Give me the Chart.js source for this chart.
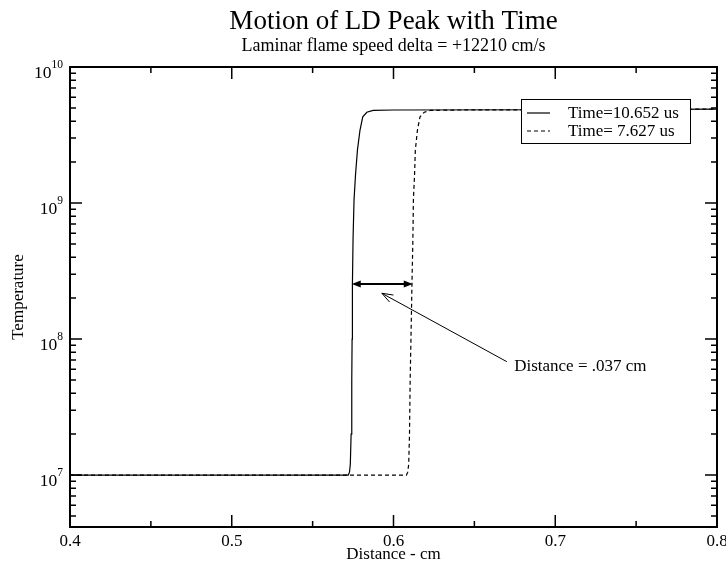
<!DOCTYPE html>
<html><head><meta charset="utf-8">
<script src="https://cdn.jsdelivr.net/npm/chart.js@4"></script>
<style>html,body{margin:0;padding:0;background:#fff}#wrap{width:726px;height:561px}</style>
</head><body><div id="wrap"><canvas id="c" width="726" height="561"></canvas></div>
<script>
// ---- text ----
const titleText = 'Motion of LD Peak with Time';
const subtitleText = 'Laminar flame speed delta = +12210 cm/s';
const xAxisTitle = 'Distance - cm';
const yAxisTitle = 'Temperature';
const seriesLabels = ['Time=10.652 us', 'Time= 7.627 us'];

// ---- series ----
const xSolid = [0.40, 0.572, 0.5728, 0.5733, 0.5738, 0.5742, 0.5744, 0.5746, 0.5750, 0.5756, 0.5765, 0.5777, 0.5793, 0.5810, 0.5835, 0.5874, 0.600, 0.700, 0.800];
const ySolid = [1e7, 1e7, 1.05e7, 1.2e7, 2e7, 5e7, 1e8, 2.5e8, 5.5e8, 1.05e9, 1.6e9, 2.45e9, 3.44e9, 4.3e9, 4.65e9, 4.8e9, 4.83e9, 4.85e9, 4.9e9];
const xDashed = [0.40, 0.608, 0.6088, 0.6094, 0.6099, 0.6103, 0.6108, 0.6114, 0.6120, 0.6123, 0.6130, 0.6135, 0.6148, 0.6164, 0.6190, 0.6230, 0.640, 0.700, 0.800];
const yDashed = [1e7, 1e7, 1.05e7, 1.2e7, 2e7, 5e7, 1e8, 2.5e8, 5.5e8, 1.05e9, 1.6e9, 2.45e9, 3.44e9, 4.3e9, 4.65e9, 4.8e9, 4.83e9, 4.85e9, 4.9e9];

// ---- axes ----
const xRange = [0.4, 0.8];
const yRange = [4.15e6, 1e10];
const xMajorTicks = [0.4, 0.5, 0.6, 0.7, 0.8];
const xTickLabels = ['0.4', '0.5', '0.6', '0.7', '0.8'];
const xMinorTicks = [0.45, 0.55, 0.65, 0.75];
const yMajorExponents = [7, 8, 9, 10];
const yMinorTicks = [5e6, 6e6, 7e6, 8e6, 9e6, 2e7, 3e7, 4e7, 5e7, 6e7, 7e7, 8e7, 9e7, 2e8, 3e8, 4e8, 5e8, 6e8, 7e8, 8e8, 9e8, 2e9, 3e9, 4e9, 5e9, 6e9, 7e9, 8e9, 9e9];

// ---- annotations (data coordinates) ----
const gapArrowX = [0.5742, 0.6119];
const gapArrowY = [2.54e8, 2.54e8];
const noteArrowX = [0.6701, 0.5928];
const noteArrowY = [6.81e7, 2.17e8];
const noteText = 'Distance = .037 cm';
const notePos = [0.6746, 6.33e7];

const FONT = '"Liberation Serif", "Times New Roman", serif';

function pts(xs, ys) { return xs.map((x, i) => ({ x: x, y: ys[i] })); }

function arrowHead(ctx, x0, y0, x1, y1, len, half, filled) {
  const a = Math.atan2(y1 - y0, x1 - x0);
  const bx = x1 - len * Math.cos(a), by = y1 - len * Math.sin(a);
  const px = -Math.sin(a) * half, py = Math.cos(a) * half;
  ctx.beginPath();
  ctx.moveTo(bx + px, by + py);
  ctx.lineTo(x1, y1);
  ctx.lineTo(bx - px, by - py);
  if (filled) { ctx.closePath(); ctx.fill(); } else { ctx.stroke(); }
}

const decorPlugin = {
  id: 'decor',
  afterDatasetsDraw(chart) {
    const ctx = chart.ctx, a = chart.chartArea;
    const xs = chart.scales.x, ys = chart.scales.y;
    ctx.save();
    ctx.fillStyle = '#000'; ctx.strokeStyle = '#000';

    // annotations
    const gx0 = xs.getPixelForValue(gapArrowX[0]), gx1 = xs.getPixelForValue(gapArrowX[1]);
    const gy = ys.getPixelForValue(gapArrowY[0]);
    ctx.lineWidth = 2;
    ctx.beginPath(); ctx.moveTo(gx0 + 4, gy); ctx.lineTo(gx1 - 4, gy); ctx.stroke();
    arrowHead(ctx, gx1, gy, gx0, gy, 9, 3.5, true);
    arrowHead(ctx, gx0, gy, gx1, gy, 9, 3.5, true);

    const nx0 = xs.getPixelForValue(noteArrowX[0]), ny0 = ys.getPixelForValue(noteArrowY[0]);
    const nx1 = xs.getPixelForValue(noteArrowX[1]), ny1 = ys.getPixelForValue(noteArrowY[1]);
    ctx.lineWidth = 1;
    ctx.beginPath(); ctx.moveTo(nx0, ny0); ctx.lineTo(nx1, ny1); ctx.stroke();
    arrowHead(ctx, nx0, ny0, nx1, ny1, 11, 4, false);

    ctx.font = '17px ' + FONT;
    ctx.textAlign = 'left'; ctx.textBaseline = 'middle';
    ctx.fillText(noteText, xs.getPixelForValue(notePos[0]), ys.getPixelForValue(notePos[1]));

    // frame
    ctx.lineWidth = 2;
    ctx.strokeRect(a.left, a.top, a.right - a.left, a.bottom - a.top);

    // ticks (inward, all four sides)
    ctx.lineWidth = 1.5;
    ctx.beginPath();
    xMajorTicks.forEach(v => { const p = xs.getPixelForValue(v);
      ctx.moveTo(p, a.bottom); ctx.lineTo(p, a.bottom - 12);
      ctx.moveTo(p, a.top); ctx.lineTo(p, a.top + 12); });
    xMinorTicks.forEach(v => { const p = xs.getPixelForValue(v);
      ctx.moveTo(p, a.bottom); ctx.lineTo(p, a.bottom - 6);
      ctx.moveTo(p, a.top); ctx.lineTo(p, a.top + 6); });
    yMajorExponents.forEach(e => { const p = ys.getPixelForValue(Math.pow(10, e));
      ctx.moveTo(a.left, p); ctx.lineTo(a.left + 12, p);
      ctx.moveTo(a.right, p); ctx.lineTo(a.right - 12, p); });
    yMinorTicks.forEach(v => { const p = ys.getPixelForValue(v);
      ctx.moveTo(a.left, p); ctx.lineTo(a.left + 6, p);
      ctx.moveTo(a.right, p); ctx.lineTo(a.right - 6, p); });
    ctx.stroke();

    // x tick labels
    ctx.font = '17px ' + FONT;
    ctx.textAlign = 'center'; ctx.textBaseline = 'alphabetic';
    xMajorTicks.forEach((v, i) => ctx.fillText(xTickLabels[i], xs.getPixelForValue(v), a.bottom + 19));

    // y tick labels 10^n
    yMajorExponents.forEach(e => {
      const p = ys.getPixelForValue(Math.pow(10, e));
      ctx.font = '11.5px ' + FONT;
      const sup = String(e);
      const sw = ctx.measureText(sup).width;
      ctx.textAlign = 'right';
      ctx.fillText(sup, a.left - 7, p + 0.5);
      ctx.font = '17.5px ' + FONT;
      ctx.fillText('10', a.left - 7 - sw, p + 11);
    });

    // axis titles
    ctx.font = '17px ' + FONT;
    ctx.textAlign = 'center';
    ctx.fillText(xAxisTitle, (a.left + a.right) / 2, a.bottom + 32);
    ctx.save();
    ctx.translate(23, (a.top + a.bottom) / 2);
    ctx.rotate(-Math.PI / 2);
    ctx.fillText(yAxisTitle, 0, 0);
    ctx.restore();

    // legend
    const lx = 521, ly = 99, lw = 169, lh = 44;
    ctx.fillStyle = '#fff';
    ctx.fillRect(lx, ly, lw, lh);
    ctx.strokeStyle = '#000'; ctx.lineWidth = 1;
    ctx.strokeRect(lx + 0.5, ly + 0.5, lw, lh);
    chart.data.datasets.forEach((ds, i) => {
      const yy = ly + 14 + i * 18;
      ctx.setLineDash(ds.borderDash || []);
      ctx.lineWidth = 1.2;
      ctx.beginPath(); ctx.moveTo(lx + 6, yy); ctx.lineTo(lx + 29, yy); ctx.stroke();
      ctx.setLineDash([]);
      ctx.fillStyle = '#000';
      ctx.font = '17px ' + FONT;
      ctx.textAlign = 'left'; ctx.textBaseline = 'middle';
      ctx.fillText(ds.label, lx + 47, yy + 1);
    });
    ctx.restore();
  }
};

new Chart(document.getElementById('c'), {
  type: 'line',
  data: {
    datasets: [
      { label: seriesLabels[0], data: pts(xSolid, ySolid), borderColor: '#000', borderWidth: 1.2, pointRadius: 0, fill: false, tension: 0 },
      { label: seriesLabels[1], data: pts(xDashed, yDashed), borderColor: '#000', borderWidth: 1.2, borderDash: [4, 3], pointRadius: 0, fill: false, tension: 0 }
    ]
  },
  options: {
    responsive: false, animation: false, devicePixelRatio: 1,
    layout: { padding: { left: 70, right: 9, top: 0, bottom: 34 } },
    plugins: {
      legend: { display: false }, tooltip: { enabled: false },
      title: { display: true, text: titleText, color: '#000', font: { family: FONT, size: 27, weight: 'normal', lineHeight: 1 }, padding: { top: 8, bottom: 0 } },
      subtitle: { display: true, text: subtitleText, color: '#000', font: { family: FONT, size: 18, weight: 'normal', lineHeight: 1 }, padding: { top: 2, bottom: 12 } }
    },
    scales: {
      x: { type: 'linear', min: xRange[0], max: xRange[1], display: false },
      y: { type: 'logarithmic', min: yRange[0], max: yRange[1], display: false }
    }
  },
  plugins: [decorPlugin]
});
</script>
</body></html>
